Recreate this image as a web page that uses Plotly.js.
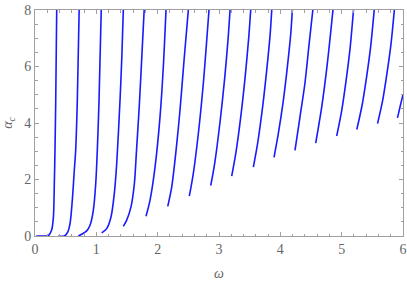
<!DOCTYPE html>
<html>
<head>
<meta charset="utf-8">
<script src="https://cdn.plot.ly/plotly-3.0.1.min.js"></script>
<style>
  html, body { margin: 0; padding: 0; background: #fff; }
  #plot { width: 407px; height: 281px; }
</style>
</head>
<body>
<div id="plot"></div>
<script>
// branches of alpha_c(omega), one pair of arrays per branch
let x1 = [0.02, 0.12, 0.217, 0.27, 0.30, 0.315, 0.326, 0.338, 0.354];
let y1 = [0, 0, 0.01, 0.2, 0.67, 1.85, 3.03, 4.8, 8];
let x2 = [0.38, 0.478, 0.533, 0.571, 0.608, 0.641, 0.663, 0.69, 0.72];
let y2 = [0, 0, 0.14, 0.44, 1.26, 2.33, 3.03, 4.8, 8];
let x3 = [0.706, 0.76, 0.843, 0.897, 0.951, 0.99, 1.016, 1.044, 1.08];
let y3 = [0, 0.06, 0.18, 0.38, 0.91, 1.85, 3.03, 4.8, 8];
let x4 = [1.087, 1.169, 1.239, 1.293, 1.332, 1.386, 1.415, 1.44];
let y4 = [0.11, 0.26, 0.67, 1.5, 2.56, 4.8, 6.3, 8];
let x5 = [1.44, 1.495, 1.565, 1.62, 1.655, 1.70, 1.745, 1.78];
let y5 = [0.34, 0.56, 1.03, 1.85, 3.03, 4.6, 6.5, 8];
let x6 = [1.81, 1.875, 1.957, 2.038, 2.092, 2.136];
let y6 = [0.70, 1.26, 2.44, 4.21, 5.98, 8];
let x7 = [2.164, 2.229, 2.30, 2.364, 2.43, 2.50];
let y7 = [1.05, 1.73, 3.03, 4.45, 6.22, 8];
let x8 = [2.516, 2.581, 2.663, 2.744, 2.80, 2.837];
let y8 = [1.41, 2.21, 3.62, 5.39, 6.93, 8];
let x9 = [2.865, 2.931, 3.019, 3.092, 3.149, 3.18];
let y9 = [1.78, 2.59, 4.08, 5.57, 7.0, 8];
let x10 = [3.207, 3.275, 3.362, 3.43, 3.486, 3.517];
let y10 = [2.12, 2.94, 4.35, 5.71, 7.06, 8];
let x11 = [3.56, 3.629, 3.71, 3.776, 3.833, 3.86];
let y11 = [2.44, 3.27, 4.55, 5.83, 7.11, 8];
let x12 = [3.897, 3.967, 4.049, 4.114, 4.17, 4.196];
let y12 = [2.78, 3.62, 4.80, 5.98, 7.16, 8];
let x13 = [4.239, 4.32, 4.40, 4.47, 4.53];
let y13 = [3.03, 4.21, 5.39, 6.81, 8];
let x14 = [4.577, 4.675, 4.766, 4.858];
let y14 = [3.29, 4.57, 6.10, 8];
let x15 = [4.919, 5.0, 5.075, 5.138, 5.193];
let y15 = [3.54, 4.43, 5.55, 6.66, 8];
let x16 = [5.247, 5.332, 5.409, 5.474, 5.531];
let y16 = [3.77, 4.62, 5.67, 6.73, 8];
let x17 = [5.585, 5.667, 5.741, 5.804, 5.859];
let y17 = [3.98, 4.78, 5.79, 6.79, 8];
let x18 = [5.91, 5.955, 6.0];
let y18 = [4.18, 4.6, 5.0];

let xs = [x1, x2, x3, x4, x5, x6, x7, x8, x9, x10, x11, x12, x13, x14, x15, x16, x17, x18];
let ys = [y1, y2, y3, y4, y5, y6, y7, y8, y9, y10, y11, y12, y13, y14, y15, y16, y17, y18];

let traces = xs.map((x, i) => ({
    x: x,
    y: ys[i],
    mode: 'lines',
    line: { color: '#1a1aff', width: 1.6, shape: 'spline', smoothing: 0.8 },
    hoverinfo: 'skip',
    showlegend: false
}));

let serif = 'Liberation Serif';
let tickFont = { family: serif, size: 14, color: '#666' };

let axisBase = {
    showgrid: false,
    zeroline: false,
    showline: true,
    linecolor: '#a0a0a0',
    linewidth: 1,
    mirror: 'ticks',
    ticks: 'inside',
    ticklen: 4,
    tickcolor: '#a0a0a0',
    tickwidth: 1,
    ticklabeloverflow: 'allow',
    tickfont: tickFont
};

let layout = {
    width: 407,
    height: 281,
    margin: { l: 35, r: 4, t: 10, b: 45 },
    paper_bgcolor: '#fff',
    plot_bgcolor: '#fff',
    font: { family: serif, size: 14, color: '#666' },
    xaxis: Object.assign({}, axisBase, {
        range: [0, 6],
        dtick: 1,
        tick0: 0,
        minor: { dtick: 0.2, ticks: 'inside', ticklen: 2.5, tickcolor: '#a0a0a0' },
        title: { text: '<i>ω</i>', font: { family: serif, size: 14, color: '#666' }, standoff: 13 }
    }),
    yaxis: Object.assign({}, axisBase, {
        range: [0, 8],
        dtick: 2,
        tick0: 0,
        minor: { dtick: 0.5, ticks: 'inside', ticklen: 2.5, tickcolor: '#a0a0a0' },
        title: { text: '<i>α</i><sub><i>c</i></sub>', font: { family: serif, size: 14, color: '#666' }, standoff: 9 }
    })
};

Plotly.newPlot('plot', traces, layout, { staticPlot: true, displayModeBar: false });
</script>
</body>
</html>
